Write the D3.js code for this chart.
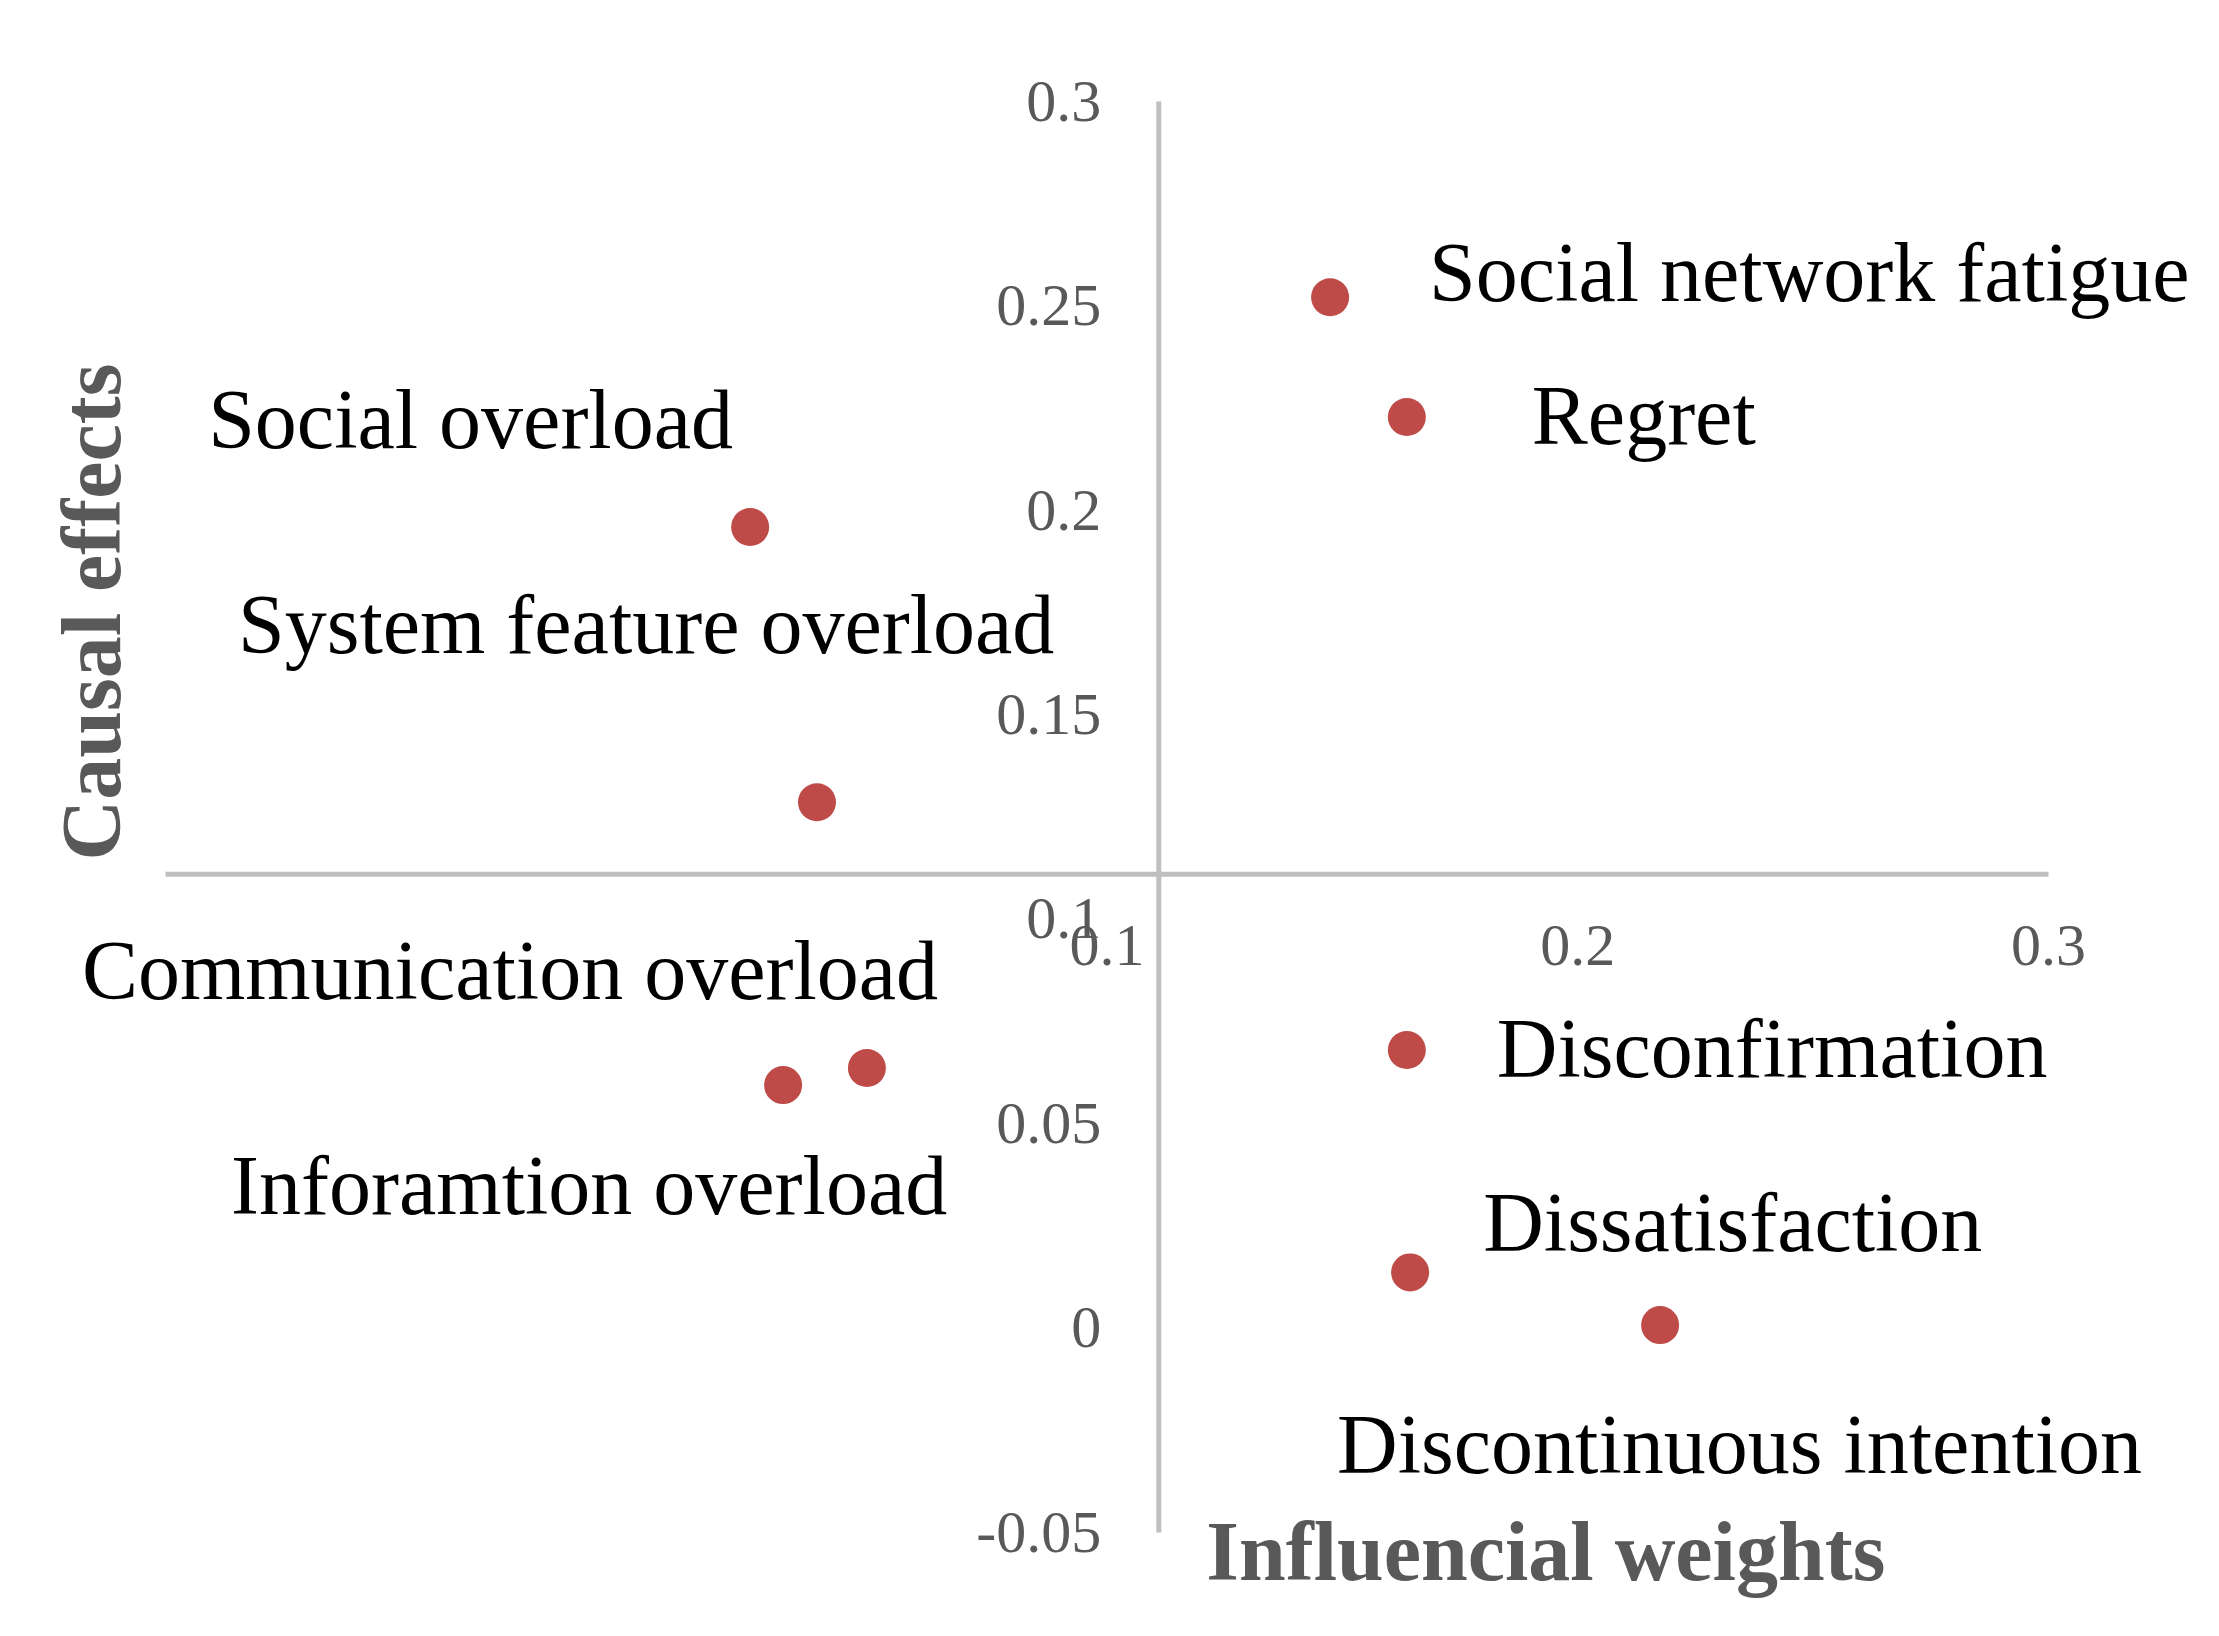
<!DOCTYPE html>
<html>
<head>
<meta charset="utf-8">
<script src="https://cdn.jsdelivr.net/npm/d3@7"></script>
<style>
  html, body { margin: 0; padding: 0; background: #ffffff; }
  svg { display: block; }
</style>
</head>
<body>
<div id="chart"></div>
<script>
// ---------------- data ----------------
const factors = [
  "Social network fatigue",
  "Regret",
  "Social overload",
  "System feature overload",
  "Communication overload",
  "Inforamtion overload",
  "Disconfirmation",
  "Dissatisfaction",
  "Discontinuous intention"
];
const influencialWeights = [0.1475, 0.1638, 0.0243, 0.0385, 0.0491, 0.0313, 0.1638, 0.1645, 0.2176];
const causalEffects      = [0.252,  0.2227, 0.1958, 0.1285, 0.0635, 0.0593, 0.0679, 0.0135, 0.0006];

const xTickValues = [0.1, 0.2, 0.3];
const yTickValues = [-0.05, 0, 0.05, 0.1, 0.15, 0.2, 0.25, 0.3];
const xDomain = [-0.1, 0.3];
const yDomain = [-0.05, 0.3];
const xAxisTitle = "Influencial weights";
const yAxisTitle = "Causal effects";
const axesCrossAt = 0.111;   // both axes cross at the mean value

// ---------------- layout (label placement relative to each point, px) ----------------
const labelLayout = {
  "Social network fatigue":  { dx: 99,   dy: 4 },
  "Regret":                  { dx: 125,  dy: 27 },
  "Social overload":         { dx: -542, dy: -79 },
  "System feature overload": { dx: -579, dy: -149 },
  "Communication overload":  { dx: -785, dy: -69 },
  "Inforamtion overload":    { dx: -552, dy: 129 },
  "Disconfirmation":         { dx: 90,   dy: 27 },
  "Dissatisfaction":         { dx: 73,   dy: -21 },
  "Discontinuous intention": { dx: -323, dy: 148 }
};

const W = 2219, H = 1636;
const serif = "'Times New Roman', 'Liberation Serif', serif";

const svg = d3.select("#chart").append("svg")
  .attr("width", W).attr("height", H)
  .style("background", "#ffffff");

const x = d3.scaleLinear().domain(xDomain).range([165, 2048]);
const y = d3.scaleLinear().domain(yDomain).range([1532, 101]);

const points = factors.map((name, i) => ({ name, wx: influencialWeights[i], cy: causalEffects[i] }));

// x axis (horizontal line crossing at y = axesCrossAt)
const xAxis = svg.append("g")
  .attr("transform", `translate(0,${y(axesCrossAt)})`)
  .call(d3.axisBottom(x).tickValues(xTickValues).tickSize(0).tickSizeOuter(0).tickPadding(49)
    .tickFormat(d => `${d}`));

// y axis (vertical line crossing at x = axesCrossAt)
const yAxis = svg.append("g")
  .attr("transform", `translate(${x(axesCrossAt)},0)`)
  .call(d3.axisLeft(y).tickValues(yTickValues).tickSize(0).tickSizeOuter(0).tickPadding(57)
    .tickFormat(d => `${d}`));

[xAxis, yAxis].forEach(g => {
  g.select(".domain").attr("stroke", "#bfbfbf").attr("stroke-width", 5);
  g.selectAll("text")
    .attr("fill", "#595959")
    .style("font-family", serif)
    .style("font-size", "60px");
});

// points
svg.append("g").selectAll("circle")
  .data(points)
  .join("circle")
  .attr("cx", d => x(d.wx))
  .attr("cy", d => y(d.cy))
  .attr("r", 19)
  .attr("fill", "#be4b48");

// data labels
svg.append("g").selectAll("text")
  .data(points)
  .join("text")
  .attr("x", d => x(d.wx) + labelLayout[d.name].dx)
  .attr("y", d => y(d.cy) + labelLayout[d.name].dy)
  .attr("fill", "#000000")
  .style("font-family", serif)
  .style("font-size", "84px")
  .text(d => d.name);

// axis titles
svg.append("text")
  .attr("x", x(axesCrossAt) + 48)
  .attr("y", 1580)
  .attr("fill", "#595959")
  .style("font-family", serif)
  .style("font-size", "84px")
  .style("font-weight", "bold")
  .text(xAxisTitle);

svg.append("text")
  .attr("transform", `translate(120,${612}) rotate(-90)`)
  .attr("text-anchor", "middle")
  .attr("fill", "#595959")
  .style("font-family", serif)
  .style("font-size", "84px")
  .style("font-weight", "bold")
  .text(yAxisTitle);
</script>
</body>
</html>
